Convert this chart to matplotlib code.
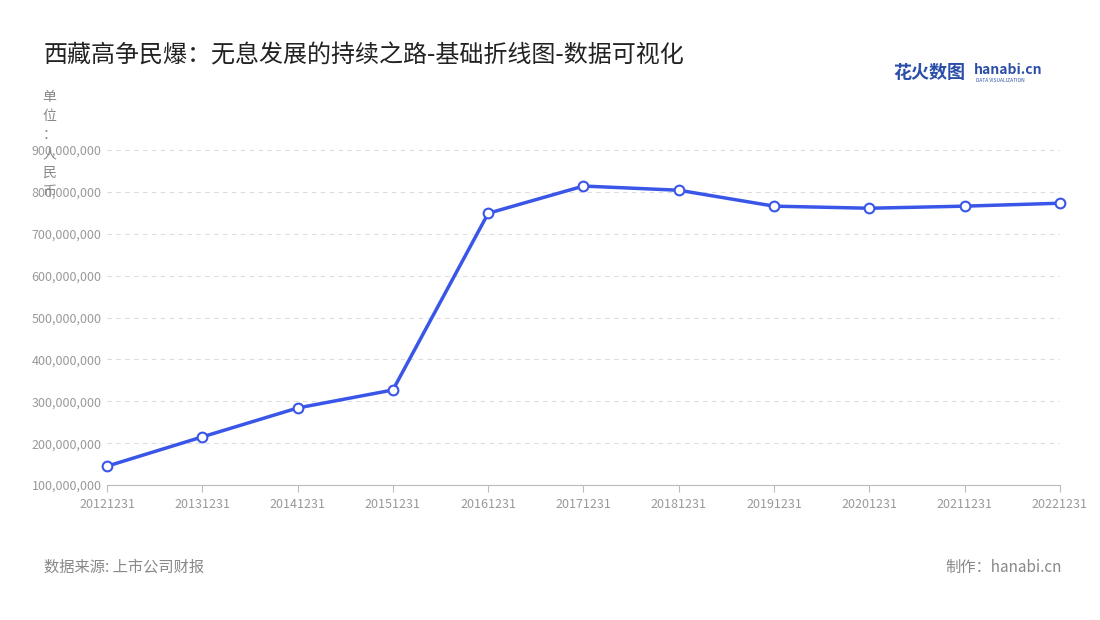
import matplotlib
matplotlib.use("Agg")
import matplotlib.pyplot as plt
from matplotlib.ticker import FuncFormatter

plt.rcParams['font.family'] = ['Noto Sans CJK SC', 'DejaVu Sans']

dates = ["20121231","20131231","20141231","20151231","20161231","20171231",
         "20181231","20191231","20201231","20211231","20221231"]
values = [145e6, 215e6, 284e6, 327e6, 749e6, 814e6, 804e6, 766e6, 761e6, 766e6, 773e6]
yticks = [100e6,200e6,300e6,400e6,500e6,600e6,700e6,800e6,900e6]

fig = plt.figure(figsize=(11, 6.2), dpi=100)
ax = fig.add_axes([0.0973, 0.2177, 0.8663, 0.5403])
x = list(range(len(dates)))
ax.plot(x, values, color='#3a56e8', lw=2.5, marker='o', ms=7,
        markerfacecolor='white', markeredgecolor='#3a56e8', markeredgewidth=1.5, zorder=3, clip_on=False)
ax.set_xlim(0, len(dates)-1)
ax.set_ylim(100e6, 900e6)
ax.set_yticks(yticks)
ax.yaxis.set_major_formatter(FuncFormatter(lambda v, p: f"{int(v):,}"))
ax.set_xticks(x)
ax.set_xticklabels(dates)
ax.tick_params(axis='both', labelsize=9, colors='#999999', length=0, pad=4)
ax.tick_params(axis='x', length=5, color='#bbbbbb')
ax.grid(axis='y', ls=(0, (4, 4)), color='#dddddd', lw=0.8)
for s in ['top', 'right', 'left']:
    ax.spines[s].set_visible(False)
ax.spines['bottom'].set_color('#bbbbbb')

fig.text(0.04, 0.91, "西藏高争民爆：无息发展的持续之路-基础折线图-数据可视化", fontsize=17.3, color='#222222', va='center')
unit = "单位：人民币"
for i, ch in enumerate(unit):
    fig.text(0.045, 1 - (97 + i*19)/620, ch, fontsize=10, color='#888888', ha='center', va='center')
fig.text(0.04, 1 - 567/620, "数据来源: 上市公司财报", fontsize=11, color='#888888', va='center')
fig.text(0.965, 1 - 567/620, "制作：hanabi.cn", fontsize=11, color='#888888', va='center', ha='right')
fig.text(0.812, 1 - 72/620, "花火数图", fontsize=13, color='#2b4fa8', va='center', weight='bold')
fig.text(0.885, 1 - 70/620, "hanabi.cn", fontsize=10, color='#2b4fa8', va='center', weight='bold')
fig.text(0.887, 1 - 80/620, "DATA VISUALIZATION", fontsize=3.5, color='#2b4fa8', va='center')

fig.savefig("out.png", dpi=100)
